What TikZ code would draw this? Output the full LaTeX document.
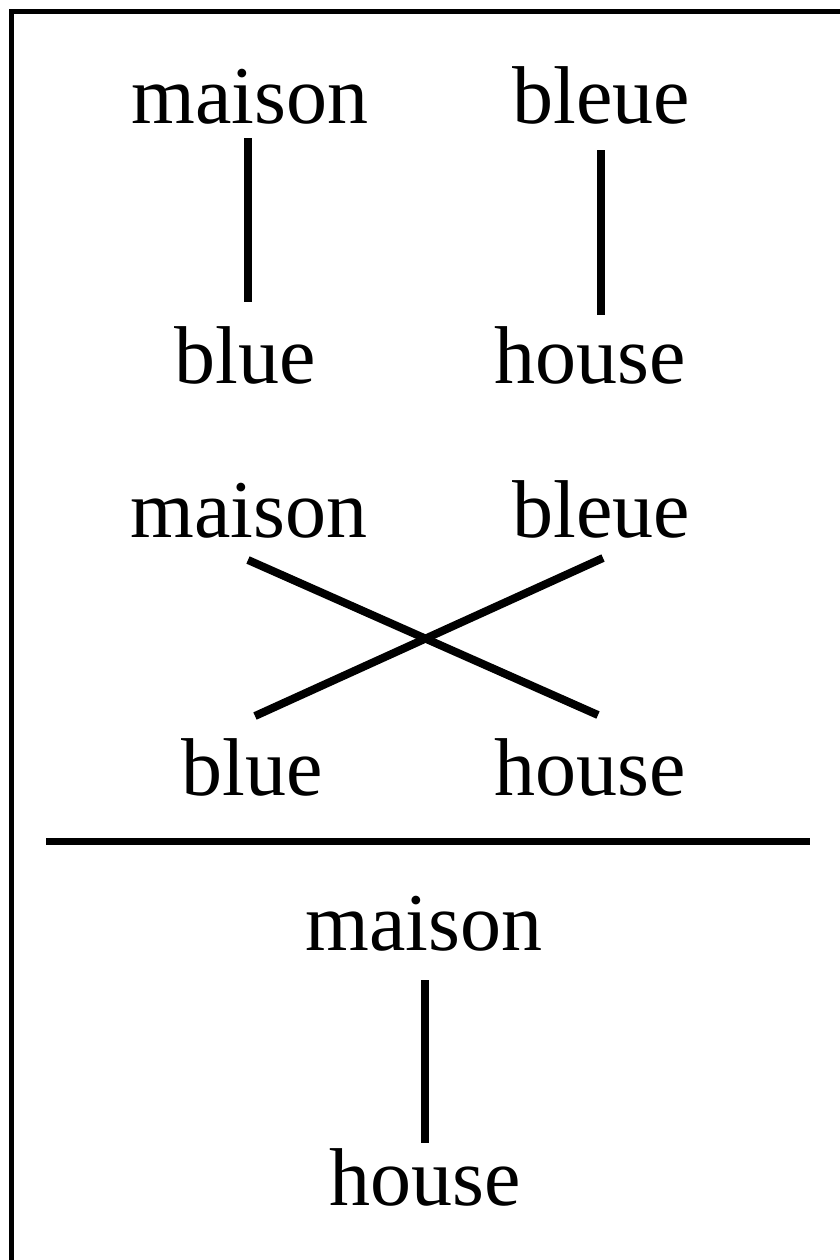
\documentclass[tikz,border=0pt]{standalone}
\usepackage{fontspec}
\setmainfont{Liberation Serif}
\begin{document}
\begin{tikzpicture}[x=0.5pt,y=-0.5pt,
  word/.style={anchor=base,inner sep=0pt,font=\fontsize{41pt}{49pt}\selectfont},
  link/.style={line width=4pt,line cap=butt},
  rule/.style={line width=3.5pt},
  frame/.style={line width=2.4pt}]
\useasboundingbox (0,0) rectangle (840,1260);

% open frame along the top and left edges
\draw[frame] (11.7,1260) -- (11.7,11.7) -- (840,11.7);

% first alignment: straight links
\node[word] (m1) at (250,123) {maison};
\node[word] (l1) at (601,123) {bleue};
\node[word] (b1) at (245,383) {blue};
\node[word] (h1) at (590,383) {house};
\coordinate (m1s) at (248,138);
\coordinate (b1n) at (248,302);
\coordinate (l1s) at (601,150);
\coordinate (h1n) at (601,315);
\draw[link] (m1s) -- (b1n);
\draw[link] (l1s) -- (h1n);

% second alignment: crossing links
\node[word] (m2) at (249,537) {maison};
\node[word] (l2) at (601,537) {bleue};
\node[word] (b2) at (252,795) {blue};
\node[word] (h2) at (590,795) {house};
\coordinate (m2s) at (248,560);
\coordinate (h2n) at (598,715);
\coordinate (l2s) at (603,558);
\coordinate (b2n) at (255,716);
\draw[link] (m2s) -- (h2n);
\draw[link] (l2s) -- (b2n);

% rule
\coordinate (rl) at (46,841);
\coordinate (rr) at (810,841);
\draw[rule] (rl) -- (rr);

% result
\node[word] (m3) at (424,950) {maison};
\node[word] (h3) at (425,1205) {house};
\coordinate (m3s) at (425,980);
\coordinate (h3n) at (425,1143);
\draw[link] (m3s) -- (h3n);
\end{tikzpicture}
\end{document}
